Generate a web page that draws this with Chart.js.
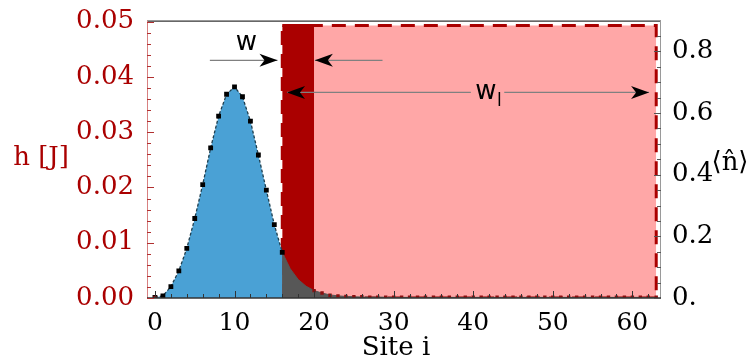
<!DOCTYPE html>
<html><head><meta charset="utf-8">
<script src="https://cdn.jsdelivr.net/npm/chart.js@4/dist/chart.umd.min.js"></script>
<style>html,body{margin:0;padding:0;background:#fff}</style>
</head><body>
<canvas id="c" width="750" height="362"></canvas>
<script>
// ---- data ----
const xTicks = [0, 10, 20, 30, 40, 50, 60];
const hTicks = [0, 0.01, 0.02, 0.03, 0.04, 0.05];
const hTickLabels = ['0.00', '0.01', '0.02', '0.03', '0.04', '0.05'];
const nTicks = [0, 0.2, 0.4, 0.6, 0.8];
const nTickLabels = ['0.', '0.2', '0.4', '0.6', '0.8'];

// density <n> inside the system (blue)
const blueSites = [0, 1, 2, 3, 4, 5, 6, 7, 8, 9, 10, 11, 12, 13, 14, 15, 16];
const blueN = [0.002, 0.007, 0.037, 0.088, 0.161, 0.258, 0.368, 0.487, 0.590, 0.661, 0.685, 0.653, 0.574, 0.464, 0.350, 0.238, 0.148];

// grey tail of the density
const graySites = [1, 2, 4, 6, 8, 10, 12, 14, 16, 16, 17, 18, 19, 20, 21, 22, 23, 24, 25, 26, 28, 30, 35, 40, 50, 63];
const grayN = [0.006, 0.008, 0.008, 0.008, 0.008, 0.008, 0.008, 0.008, 0.008, 0.148, 0.095, 0.060, 0.038, 0.024, 0.016, 0.010, 0.007, 0.005, 0.004, 0.003, 0.003, 0.002, 0.002, 0.002, 0.002, 0.002];

// small dark-red markers in the lead
const redSites = [0, 20, 21, 22, 23, 24, 25, 26, 27, 28, 29, 30, 31, 32, 33, 34, 35, 36, 37, 38, 39, 40, 41, 42, 43, 44, 45, 46, 47, 48, 49, 50, 51, 52, 53, 54, 55, 56, 57, 58, 59, 60, 61, 62, 63];
const redN = [0.002, 0.024, 0.016, 0.009, 0.007, 0.005, 0.004, 0.004, 0.003, 0.003, 0.003, 0.003, 0.003, 0.003, 0.003, 0.003, 0.003, 0.003, 0.003, 0.003, 0.003, 0.003, 0.003, 0.003, 0.003, 0.003, 0.003, 0.003, 0.003, 0.003, 0.003, 0.003, 0.003, 0.003, 0.003, 0.003, 0.003, 0.003, 0.003, 0.003, 0.003, 0.003, 0.003, 0.003, 0.003];

// potential h [J]: barrier (dark red) and lead box (pink)
const barrierSites = [16, 20];
const barrierH = [0.0493, 0.0493];
const leadSites = [16, 63];
const leadH = [0.0493, 0.0493];

// ---- build datasets ----
const pts = (xs, ys) => xs.map((x, i) => ({x: x, y: ys[i]}));
const leadOutline = [
  {x: leadSites[0], y: 0}, {x: leadSites[0], y: leadH[0]},
  {x: leadSites[1], y: leadH[1]}, {x: leadSites[1], y: 0}, {x: leadSites[0], y: 0}
];

const DARKRED = '#aa0000';
const SERIF = "'DejaVu Serif', serif";

const annot = {
  id: 'annot',
  afterDatasetsDraw(chart) {
    const ctx = chart.ctx, a = chart.chartArea;
    const xs = chart.scales.x, yl = chart.scales.y, yr = chart.scales.y2;
    ctx.save();
    // frame
    ctx.lineWidth = 1;
    ctx.strokeStyle = '#000';
    ctx.beginPath(); ctx.moveTo(a.left, a.top + 0.5); ctx.lineTo(a.right, a.top + 0.5); ctx.stroke();
    ctx.strokeStyle = '#d88080';
    ctx.beginPath(); ctx.moveTo(a.left + 0.5, a.top); ctx.lineTo(a.left + 0.5, a.bottom); ctx.stroke();
    ctx.strokeStyle = '#9a9a9a';
    ctx.beginPath(); ctx.moveTo(a.right - 0.5, a.top); ctx.lineTo(a.right - 0.5, a.bottom); ctx.stroke();
    ctx.strokeStyle = '#333';
    ctx.lineWidth = 1.5;
    ctx.beginPath(); ctx.moveTo(a.left, a.bottom); ctx.lineTo(a.right, a.bottom); ctx.stroke();
    // ticks (inward) with minors
    ctx.lineWidth = 1;
    ctx.strokeStyle = '#b03030';
    for (let v = 0; v <= 0.0505; v += 0.002) {
      const y = Math.round(yl.getPixelForValue(v)) + 0.5;
      const major = Math.abs(v / 0.01 - Math.round(v / 0.01)) < 1e-6;
      ctx.beginPath(); ctx.moveTo(a.left, y); ctx.lineTo(a.left + (major ? 7 : 4), y); ctx.stroke();
    }
    ctx.strokeStyle = '#555';
    for (let v = 0; v <= 0.9; v += 0.05) {
      const y = Math.round(yr.getPixelForValue(v)) + 0.5;
      const major = Math.abs(v / 0.2 - Math.round(v / 0.2)) < 1e-6;
      ctx.beginPath(); ctx.moveTo(a.right, y); ctx.lineTo(a.right - (major ? 7 : 4), y); ctx.stroke();
    }
    ctx.strokeStyle = '#333';
    for (let v = 0; v <= 63; v += 2) {
      const x = Math.round(xs.getPixelForValue(v)) + 0.5;
      const major = v % 10 === 0;
      ctx.beginPath(); ctx.moveTo(x, a.bottom); ctx.lineTo(x, a.bottom - (major ? 7 : 4)); ctx.stroke();
    }
    // arrows
    const arrow = (x1, x2, yv, head) => {
      const p1 = xs.getPixelForValue(x1), p2 = xs.getPixelForValue(x2), y = yr.getPixelForValue(yv);
      ctx.strokeStyle = '#808080'; ctx.lineWidth = 1.3;
      ctx.beginPath(); ctx.moveTo(p1, y); ctx.lineTo(p2, y); ctx.stroke();
      if (head) {
        const tip = head === 'end' ? p2 : p1;
        const d = head === 'end' ? 1 : -1;
        const L = 18, W = 6.5;
        ctx.fillStyle = '#000';
        ctx.beginPath();
        ctx.moveTo(tip, y);
        ctx.lineTo(tip - d * L, y - W);
        ctx.lineTo(tip - d * L * 0.72, y);
        ctx.lineTo(tip - d * L, y + W);
        ctx.closePath(); ctx.fill();
      }
    };
    arrow(6.9, 15.4, 0.771, 'end');
    arrow(20.1, 28.6, 0.771, 'start');
    arrow(16.6, 39.7, 0.667, 'start');
    arrow(43.9, 62.1, 0.667, 'end');
    ctx.fillStyle = '#000';
    ctx.font = "26px 'DejaVu Sans'";
    ctx.textAlign = 'center'; ctx.textBaseline = 'middle';
    ctx.fillText('w', xs.getPixelForValue(11.5), yr.getPixelForValue(0.826));
    ctx.fillText('w', xs.getPixelForValue(41.6), yr.getPixelForValue(0.667));
    ctx.font = "17px 'DejaVu Sans'";
    ctx.fillText('l', xs.getPixelForValue(43.3), yr.getPixelForValue(0.637));
    // axis titles
    ctx.font = '26px ' + SERIF;
    ctx.fillStyle = DARKRED;
    ctx.fillText('h [J]', 41, 158);
    ctx.fillStyle = '#000';
    ctx.fillText('\u27E8n\u0302\u27E9', 730, 163);
    ctx.fillText('Site i', (a.left + a.right) / 2 - 8, 348);
    ctx.restore();
  }
};

new Chart(document.getElementById('c'), {
  type: 'scatter',
  data: {
    datasets: [
      { // blue density
        data: pts(blueSites, blueN), yAxisID: 'y2', showLine: true, fill: 'origin',
        backgroundColor: '#4aa1d5', borderColor: '#1f3f4f', borderWidth: 1.3, borderDash: [3, 2],
        pointStyle: 'rect', pointRadius: 3.4, pointBackgroundColor: '#000', pointBorderWidth: 0, order: 3
      },
      { // red markers
        data: pts(redSites, redN), yAxisID: 'y2', showLine: false,
        pointStyle: 'rect', pointRadius: 2.4, pointBackgroundColor: '#8b1010', pointBorderWidth: 0, order: 2
      },
      { // grey tail
        data: pts(graySites, grayN), yAxisID: 'y2', showLine: true, fill: 'origin',
        backgroundColor: '#575757', borderColor: '#575757', borderWidth: 1, pointRadius: 0, order: 4
      },
      { // lead box outline (dashed)
        data: leadOutline, yAxisID: 'y', showLine: true, fill: false,
        borderColor: DARKRED, borderWidth: 3, borderDash: [14, 9], pointRadius: 0, order: 4.5
      },
      { // barrier
        data: pts(barrierSites, barrierH), yAxisID: 'y', showLine: true, fill: 'origin',
        backgroundColor: DARKRED, borderColor: DARKRED, borderWidth: 3, pointRadius: 0, order: 5
      },
      { // lead fill
        data: pts(leadSites, leadH), yAxisID: 'y', showLine: true, fill: 'origin',
        backgroundColor: '#ffa7a7', borderWidth: 0, pointRadius: 0, order: 6
      }
    ]
  },
  options: {
    responsive: false, animation: false,
    layout: { padding: { top: 17, left: 0, right: 0, bottom: 0 } },
    plugins: { legend: { display: false }, tooltip: { enabled: false } },
    scales: {
      x: {
        type: 'linear', min: -1, max: 63.6,
        afterBuildTicks: s => { s.ticks = xTicks.map(v => ({value: v})); },
        afterFit: s => { s.height = 64; },
        grid: { display: false }, border: { display: false },
        ticks: { color: '#000', font: { family: SERIF, size: 25 }, padding: 2, maxRotation: 0, autoSkip: false }
      },
      y: {
        position: 'left', min: 0, max: 0.0502,
        afterBuildTicks: s => { s.ticks = hTicks.map(v => ({value: v})); },
        afterFit: s => { s.width = 147; },
        grid: { display: false }, border: { display: false },
        ticks: { color: DARKRED, font: { family: SERIF, size: 26 }, padding: 5,
                 callback: (v, i) => hTickLabels[i] }
      },
      y2: {
        position: 'right', min: 0, max: 0.9,
        afterBuildTicks: s => { s.ticks = nTicks.map(v => ({value: v})); },
        afterFit: s => { s.width = 89; },
        grid: { display: false }, border: { display: false },
        ticks: { color: '#000', font: { family: SERIF, size: 26 }, padding: 3,
                 callback: (v, i) => nTickLabels[i] }
      }
    }
  },
  plugins: [annot]
});
</script>
</body></html>
